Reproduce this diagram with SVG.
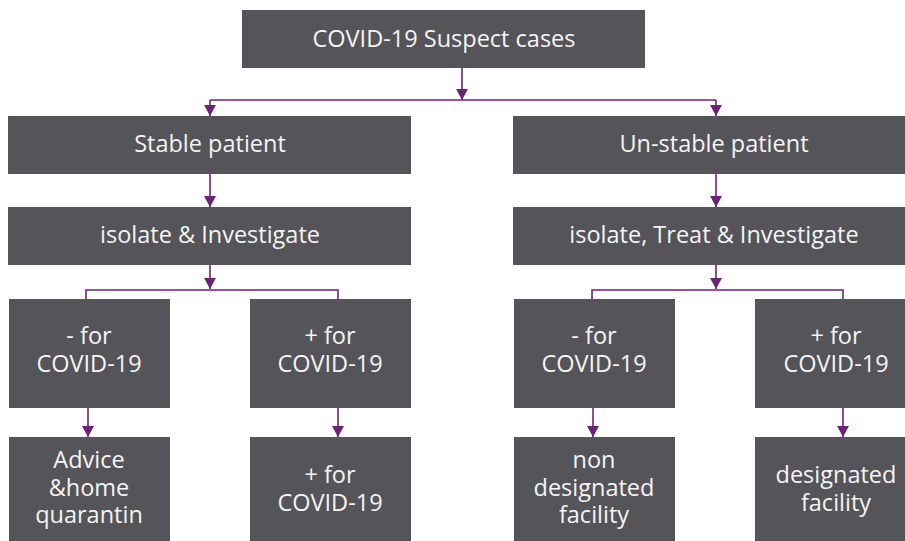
<svg xmlns="http://www.w3.org/2000/svg" width="905" height="541" viewBox="0 0 905 541">
  <style>
    .box { fill: #545459; }
    .lbl { font-family: "Open Sans", "Noto Sans", sans-serif; font-size: 23.5px; fill: #f4f4f4; text-anchor: middle; }
    .wire { fill: none; stroke: #6c2279; stroke-width: 1.6; }
    .head { fill: #6c2279; }
  </style>
  <defs>
    <!-- downward arrowhead; drawn along +x so orient="auto" turns it with the line -->
    <marker id="tip" viewBox="0 0 11 12" markerWidth="11" markerHeight="12" refX="11" refY="6" orient="auto" markerUnits="userSpaceOnUse">
      <path d="M0,0 L11,6 L0,12 Z" class="head"/>
    </marker>
  </defs>
  <rect width="905" height="541" fill="#ffffff"/>

  <!-- connectors -->
  <g id="connectors">
    <path d="M462,68 V100" class="wire" marker-end="url(#tip)"/>
    <path d="M210,100 H716" class="wire"/>
    <path d="M210,100 V116" class="wire" marker-end="url(#tip)"/>
    <path d="M716,100 V116" class="wire" marker-end="url(#tip)"/>

    <path d="M210,174 V207" class="wire" marker-end="url(#tip)"/>
    <path d="M716,174 V207" class="wire" marker-end="url(#tip)"/>

    <path d="M210,265 V289" class="wire" marker-end="url(#tip)"/>
    <path d="M86,299 V290 H338 V299" class="wire"/>
    <path d="M716,265 V289" class="wire" marker-end="url(#tip)"/>
    <path d="M592,299 V290 H843 V299" class="wire"/>

    <path d="M88,408 V437" class="wire" marker-end="url(#tip)"/>
    <path d="M338,408 V437" class="wire" marker-end="url(#tip)"/>
    <path d="M593,408 V437" class="wire" marker-end="url(#tip)"/>
    <path d="M843,408 V437" class="wire" marker-end="url(#tip)"/>
  </g>

  <g id="suspect">
    <rect class="box" x="242" y="10" width="403" height="58"/>
    <text class="lbl" x="444" y="47">COVID-19 Suspect cases</text>
  </g>

  <g id="stable">
    <rect class="box" x="8" y="116" width="403" height="58"/>
    <text class="lbl" x="210" y="152">Stable patient</text>
  </g>
  <g id="unstable">
    <rect class="box" x="513" y="116" width="403" height="58"/>
    <text class="lbl" x="714" y="152">Un-stable patient</text>
  </g>

  <g id="isolate-investigate">
    <rect class="box" x="8" y="207" width="403" height="58"/>
    <text class="lbl" x="210" y="243">isolate &amp; Investigate</text>
  </g>
  <g id="isolate-treat">
    <rect class="box" x="513" y="207" width="403" height="58"/>
    <text class="lbl" x="714" y="243">isolate, Treat &amp; Investigate</text>
  </g>

  <g id="stable-negative">
    <rect class="box" x="9" y="299" width="161" height="109"/>
    <text class="lbl" y="344"><tspan x="89">- for</tspan><tspan x="89" dy="28">COVID-19</tspan></text>
  </g>
  <g id="stable-positive">
    <rect class="box" x="250" y="299" width="161" height="109"/>
    <text class="lbl" y="344"><tspan x="330">+ for</tspan><tspan x="330" dy="28">COVID-19</tspan></text>
  </g>
  <g id="unstable-negative">
    <rect class="box" x="514" y="299" width="161" height="109"/>
    <text class="lbl" y="344"><tspan x="594">- for</tspan><tspan x="594" dy="28">COVID-19</tspan></text>
  </g>
  <g id="unstable-positive">
    <rect class="box" x="755" y="299" width="165" height="109"/>
    <text class="lbl" y="344"><tspan x="836">+ for</tspan><tspan x="836" dy="28">COVID-19</tspan></text>
  </g>

  <g id="home-quarantine">
    <rect class="box" x="9" y="437" width="161" height="110"/>
    <text class="lbl" y="468"><tspan x="89">Advice</tspan><tspan x="89" dy="28">&amp;home</tspan><tspan x="89" dy="27">quarantin</tspan></text>
  </g>
  <g id="positive-result">
    <rect class="box" x="250" y="437" width="161" height="110"/>
    <text class="lbl" y="483"><tspan x="330">+ for</tspan><tspan x="330" dy="28">COVID-19</tspan></text>
  </g>
  <g id="non-designated">
    <rect class="box" x="514" y="437" width="161" height="110"/>
    <text class="lbl" y="468"><tspan x="594">non</tspan><tspan x="594" dy="28">designated</tspan><tspan x="594" dy="27">facility</tspan></text>
  </g>
  <g id="designated">
    <rect class="box" x="755" y="437" width="165" height="110"/>
    <text class="lbl" y="483"><tspan x="836">designated</tspan><tspan x="836" dy="28">facility</tspan></text>
  </g>
</svg>
